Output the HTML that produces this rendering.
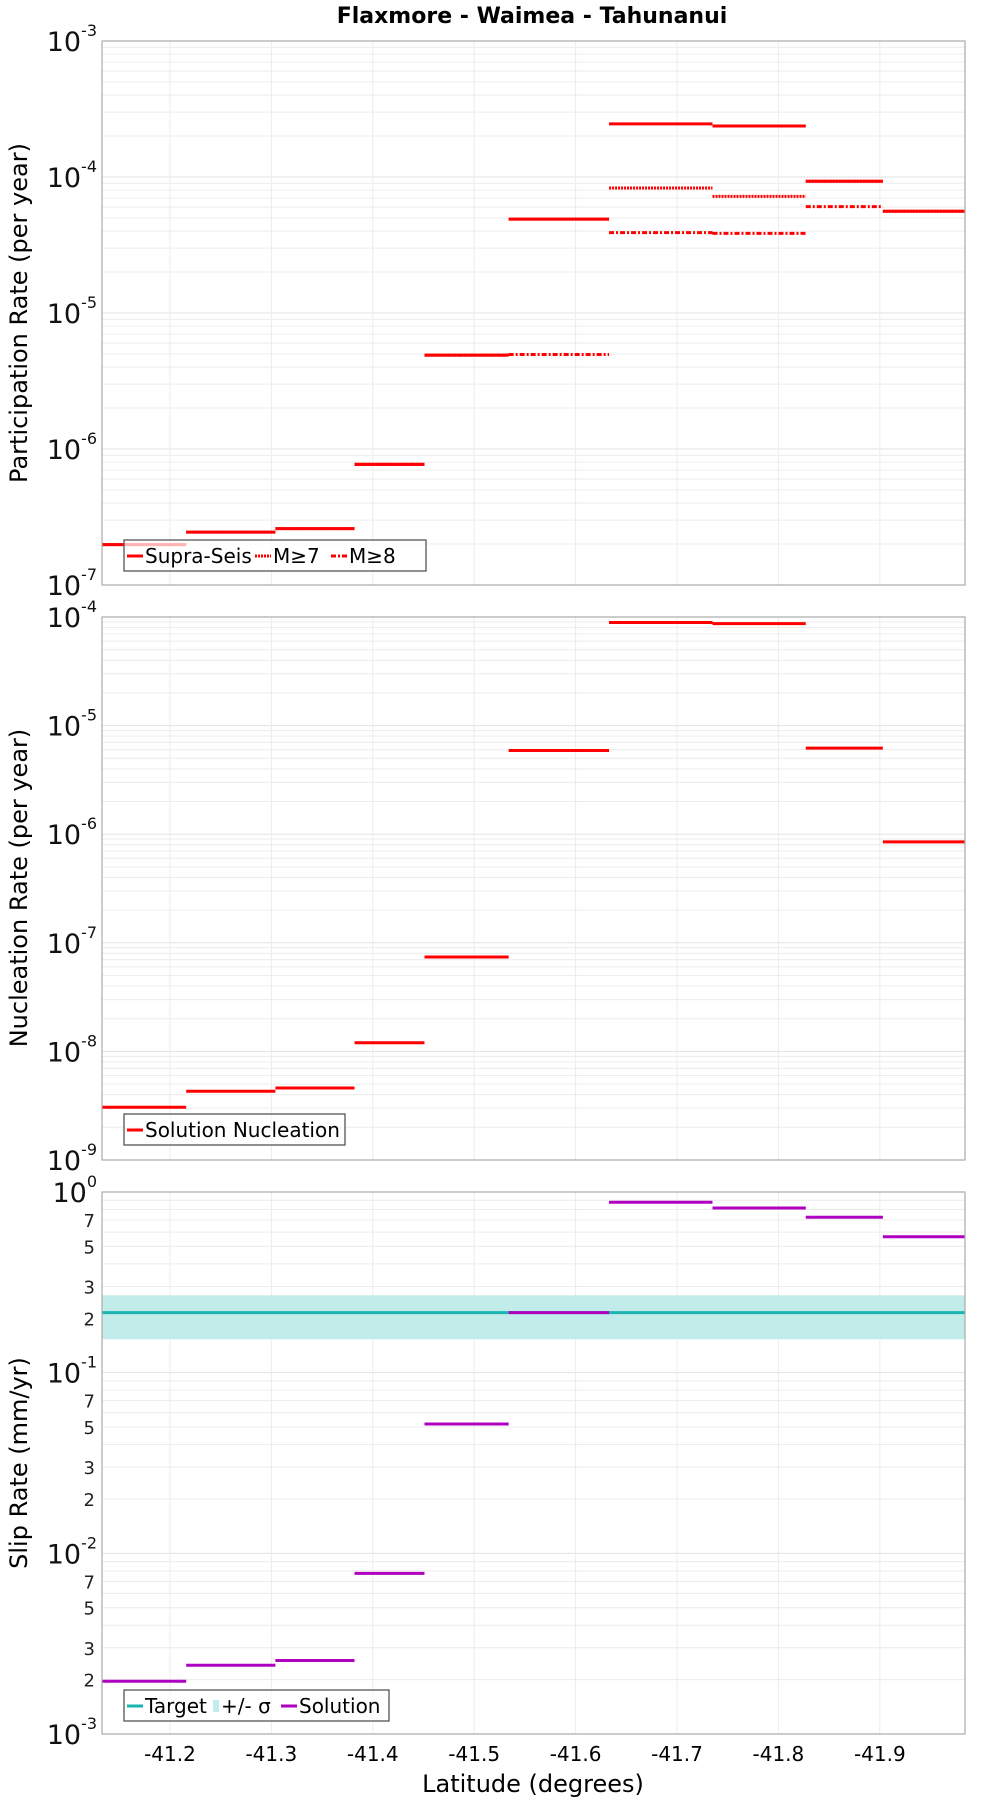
<!DOCTYPE html>
<html><head><meta charset="utf-8"><style>
body{margin:0;background:#fff;}
svg{display:block;font-family:"DejaVu Sans","Liberation Sans",sans-serif;}
</style></head><body>
<svg id="chart" width="1000" height="1800" viewBox="0 0 1000 1800" xmlns="http://www.w3.org/2000/svg">
<text x="532" y="23" text-anchor="middle" font-size="22" font-weight="bold">Flaxmore - Waimea - Tahunanui</text>
<g id="g"></g>
</svg>
<script>
const edges=[41.133,41.216,41.304,41.382,41.451,41.534,41.633,41.735,41.827,41.903,41.984];
const xTicks=[41.2,41.3,41.4,41.5,41.6,41.7,41.8,41.9];
const xTickLabels=["-41.2","-41.3","-41.4","-41.5","-41.6","-41.7","-41.8","-41.9"];
const supra=[1.98e-7,2.45e-7,2.6e-7,7.7e-7,4.9e-6,4.9e-5,2.46e-4,2.37e-4,9.3e-5,5.6e-5];
const m7=[1.98e-7,2.45e-7,2.6e-7,7.7e-7,4.9e-6,4.9e-5,8.3e-5,7.2e-5,9.3e-5,5.6e-5];
const m8=[null,null,null,7.7e-7,4.9e-6,4.95e-6,3.9e-5,3.85e-5,6.05e-5,null];
const nucl=[3.06e-9,4.3e-9,4.6e-9,1.2e-8,7.4e-8,5.9e-6,8.9e-5,8.7e-5,6.2e-6,8.5e-7];
const target=[0.215];
const sigmaLow=[0.153], sigmaHigh=[0.268];
const slip=[1.96e-3,2.4e-3,2.55e-3,7.75e-3,0.052,0.215,0.877,0.815,0.725,0.565];

const NS="http://www.w3.org/2000/svg";
const g=document.getElementById('g');
const L=102,R=965;
const xMin=edges[0],xMax=edges[edges.length-1];
function xs(v){return L+(v-xMin)/(xMax-xMin)*(R-L);}
function el(t,a,p){const e=document.createElementNS(NS,t);for(const k in a)e.setAttribute(k,a[k]);(p||g).appendChild(e);return e;}

function panel(top,bot,lmax,lmin,name,minorLabels){
  const ys=v=>top+(lmax-Math.log10(v))/(lmax-lmin)*(bot-top);
  const pg=el('g',{});
  
  
  for(let d=lmin;d<lmax;d++){
    for(let m=1;m<10;m++){
      const y=ys(m*Math.pow(10,d));
      const ln=el('line',{x1:L,x2:R,y1:y,y2:y,stroke:m==1?'#e2e2e2':'#ececec','stroke-width':1},pg);
      
      
      if(minorLabels&&[2,3,5,7].includes(m)){
        const t=el('text',{x:95,y:y+7,'text-anchor':'end','font-size':18,fill:'#222'},pg);
        t.textContent=m;
        
        
      }
    }
  }
  xTicks.forEach(v=>{
    const ln=el('line',{x1:xs(v),x2:xs(v),y1:top,y2:bot,stroke:'#ececec','stroke-width':1},pg);
    
    
  });
  for(let d=lmin;d<=lmax;d++){
    const y=ys(Math.pow(10,d));
    const t=el('text',{x:97,y:y+10,'text-anchor':'end','font-size':27,fill:'#111'},pg);
    t.textContent='10';
    const s=el('tspan',{dy:-15,'font-size':16},t);s.textContent=String(d);
    
    
  }
  return {ys,pg};
}
function frame(top,bot,pg){
  const r=el('rect',{x:L,y:top,width:R-L,height:bot-top,fill:'none',stroke:'#aaa','stroke-width':1.2},pg);
  
  
}
function steps(arr,ys,color,dash,pg,name){
  arr.forEach((v,i)=>{
    if(v==null)return;
    const a={x1:xs(edges[i]),x2:xs(edges[i+1]),y1:ys(v),y2:ys(v),stroke:color,'stroke-width':3};
    if(dash)a['stroke-dasharray']=dash;
    const ln=el('line',a,pg);
    
    
  });
}
function ytitle(x,y,txt,name){
  const t=el('text',{x:x,y:y,'text-anchor':'middle','font-size':24,transform:`rotate(-90 ${x} ${y})`});
  t.textContent=txt;
  
  
}
function legend(x,y,w,items,name){
  const lg=el('g',{});
  
  
  el('rect',{x:x,y:y,width:w,height:31,fill:'rgba(255,255,255,0.7)',stroke:'#555','stroke-width':1.3},lg);
  let cx=x+3;
  items.forEach(it=>{
    if(it.band){el('rect',{x:cx,y:y+10,width:6,height:12,fill:it.color},lg);cx+=8;}
    else{const a={x1:cx,x2:cx+16,y1:y+16,y2:y+16,stroke:it.color,'stroke-width':3};if(it.dash)a['stroke-dasharray']=it.dash;el('line',a,lg);cx+=18;}
    const t=el('text',{x:cx,y:y+23,'font-size':20},lg);t.textContent=it.label;
    
    
    cx+=it.w;
  });
}

// Panel 1
let p=panel(41,585,-3,-7,'participation',false);
steps(supra,p.ys,'#ff0000',null,p.pg,'supra-seis');
steps(m7,p.ys,'#ff0000','2 1',p.pg,'m7');
steps(m8,p.ys,'#ff0000','5 2 2 2',p.pg,'m8');
frame(41,585,p.pg);
ytitle(27,313,'Participation Rate (per year)','y-axis-title-participation');
legend(124,540,302,[{color:'#f00',label:'Supra-Seis',w:110},{color:'#f00',dash:'2 1',label:'M≥7',w:58},{color:'#f00',dash:'5 2 2 2',label:'M≥8',w:50}],'legend-participation');

// Panel 2
p=panel(617,1160,-4,-9,'nucleation',false);
steps(nucl,p.ys,'#ff0000',null,p.pg,'nucleation');
frame(617,1160,p.pg);
ytitle(27,888,'Nucleation Rate (per year)','y-axis-title-nucleation');
legend(124,1114,221,[{color:'#f00',label:'Solution Nucleation',w:190}],'legend-nucleation');

// Panel 3
p=panel(1192,1734,0,-3,'slip',true);
const band=el('rect',{x:L,y:p.ys(sigmaHigh[0]),width:R-L,height:p.ys(sigmaLow[0])-p.ys(sigmaHigh[0]),fill:'#c2ecea'},p.pg);


const tl=el('line',{x1:L,x2:R,y1:p.ys(target[0]),y2:p.ys(target[0]),stroke:'#1ab5b0','stroke-width':3},p.pg);


steps(slip,p.ys,'#b000c0',null,p.pg,'slip-solution');
frame(1192,1734,p.pg);
ytitle(27,1463,'Slip Rate (mm/yr)','y-axis-title-slip');
legend(124,1690,265,[{color:'#1ab5b0',label:'Target',w:68},{color:'#c2ecea',band:true,label:'+/- σ',w:60},{color:'#b000c0',label:'Solution',w:80}],'legend-slip');

// x ticks
xTicks.forEach((v,i)=>{
  const t=el('text',{x:xs(v),y:1761,'text-anchor':'middle','font-size':20});
  t.textContent=xTickLabels[i];
  
  
});
const xt=el('text',{x:533,y:1792,'text-anchor':'middle','font-size':24});
xt.textContent='Latitude (degrees)';


</script>
</body></html>
